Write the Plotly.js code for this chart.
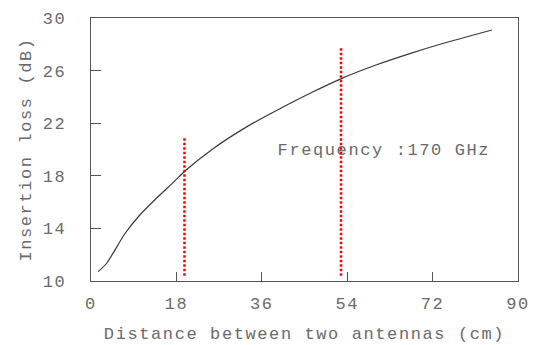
<!DOCTYPE html>
<html>
<head>
<meta charset="utf-8">
<script src="https://cdn.plot.ly/plotly-3.0.1.min.js"></script>
<style>
html, body { margin: 0; padding: 0; background: #fff; }
#chart { width: 539px; height: 345px; }
#chart text { letter-spacing: 1.6px; }
</style>
</head>
<body>
<div id="chart"></div>
<script>
// Curve: insertion loss vs distance
const distance = [1.5, 3.3, 7.2, 10.3, 13.9, 17.4, 20.0, 25.8, 32.8, 39.8, 46.5, 52.9, 60.2, 67.2, 74.3, 84.5];
const insertionLoss = [10.71, 11.35, 13.63, 15.02, 16.33, 17.52, 18.42, 20.08, 21.72, 23.1, 24.33, 25.41, 26.44, 27.29, 28.08, 29.09];

// Red dotted markers
const marker1X = [19.7, 19.7];
const marker1Y = [10.4, 20.9];
const marker2X = [52.7, 52.7];
const marker2Y = [10.4, 27.7];

const xTicks = [0, 18, 36, 54, 72, 90];
const yTicks = [10, 14, 18, 22, 26, 30];

const annotationText = 'Frequency :170 GHz';
const annotationX = 61.8;
const annotationY = 19.96;

const fontFamily = '"Liberation Mono", "DejaVu Sans Mono", monospace';
const textColor = '#6a6a6a';

const traces = [
  {
    x: distance, y: insertionLoss, type: 'scatter', mode: 'lines',
    line: { color: '#3a3a3a', width: 1.2, shape: 'spline', smoothing: 0.6 }, showlegend: false, hoverinfo: 'skip'
  },
  {
    x: marker1X, y: marker1Y, type: 'scatter', mode: 'lines',
    line: { color: '#ff0000', width: 2.5, dash: '2.5px,2px' }, showlegend: false
  },
  {
    x: marker2X, y: marker2Y, type: 'scatter', mode: 'lines',
    line: { color: '#ff0000', width: 2.5, dash: '2.5px,2px' }, showlegend: false
  }
];

const layout = {
  width: 539, height: 345,
  margin: { l: 91, r: 21, t: 18, b: 64 },
  paper_bgcolor: '#ffffff', plot_bgcolor: '#ffffff',
  font: { family: fontFamily, size: 17, color: textColor },
  xaxis: {
    range: [0, 90], tickvals: xTicks, ticktext: xTicks.map(String),
    ticks: 'inside', ticklen: 9, tickwidth: 1, tickcolor: '#555',
    showline: true, linecolor: '#555', linewidth: 1.2, mirror: true,
    showgrid: false, zeroline: false,
    tickfont: { family: fontFamily, size: 17, color: textColor },
    ticklabelstandoff: 6,
    title: { text: 'Distance between two antennas (cm)', font: { family: fontFamily, size: 17, color: textColor }, standoff: 14 }
  },
  yaxis: {
    range: [10, 30], tickvals: yTicks, ticktext: yTicks.map(String),
    ticks: 'inside', ticklen: 10, tickwidth: 1, tickcolor: '#555',
    showline: true, linecolor: '#555', linewidth: 1.2, mirror: true,
    showgrid: false, zeroline: false,
    tickfont: { family: fontFamily, size: 17, color: textColor },
    ticklabelstandoff: 20,
    title: { text: 'Insertion loss (dB)', font: { family: fontFamily, size: 17, color: textColor }, standoff: 10 }
  },
  annotations: [
    {
      x: annotationX, y: annotationY, xref: 'x', yref: 'y',
      text: annotationText, showarrow: false,
      font: { family: fontFamily, size: 17, color: textColor },
      xanchor: 'center', yanchor: 'middle'
    }
  ]
};

Plotly.newPlot('chart', traces, layout, { staticPlot: true, displayModeBar: false });
</script>
</body>
</html>
